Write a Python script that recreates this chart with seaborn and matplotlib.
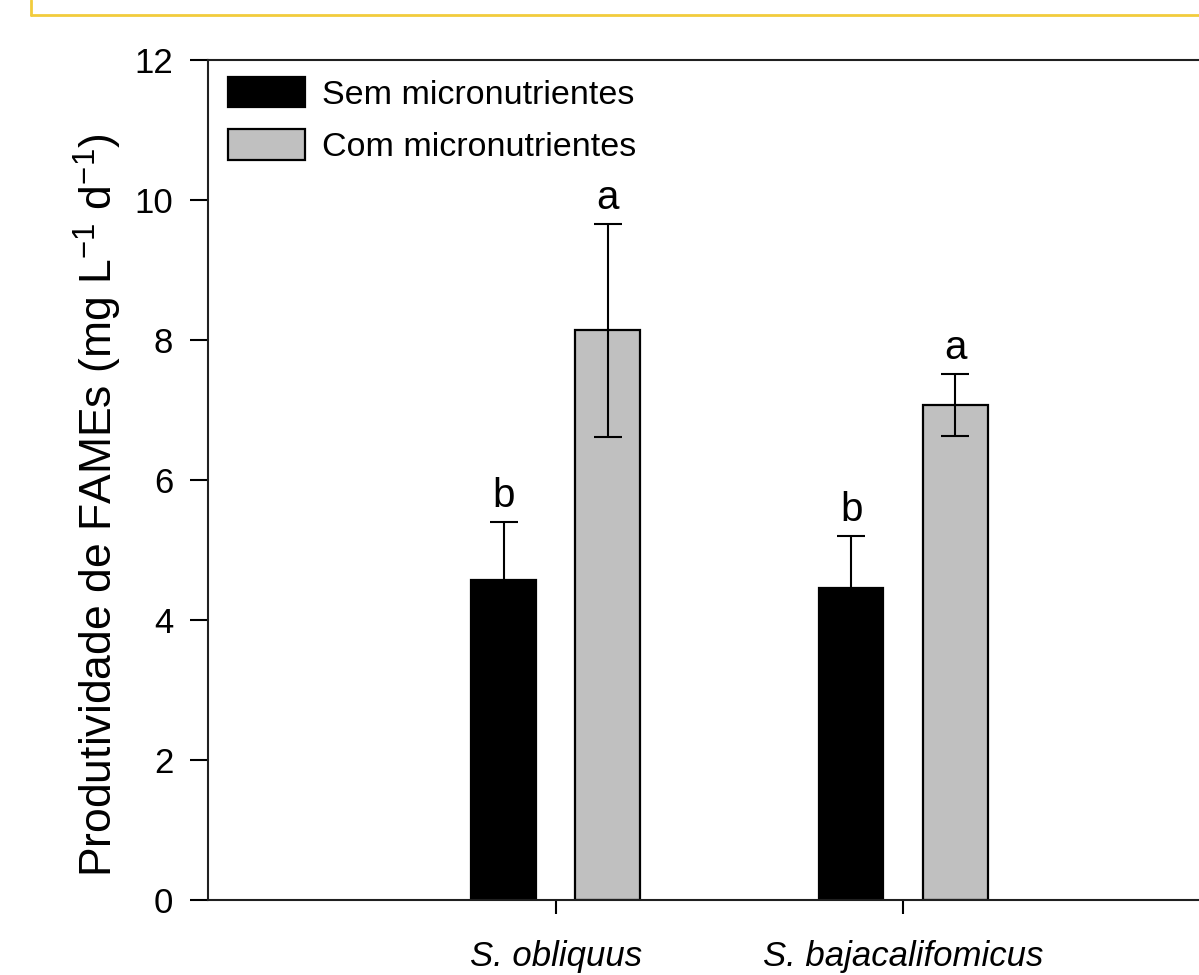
import pandas as pd
import numpy as np
import matplotlib.pyplot as plt
import seaborn as sns
from matplotlib.lines import Line2D

sns.set_style("ticks")
plt.rcParams['font.family'] = ['Liberation Sans', 'DejaVu Sans']
plt.rcParams['mathtext.fontset'] = 'custom'
plt.rcParams['mathtext.rm'] = 'Liberation Sans'
for k in ['text.color', 'axes.labelcolor', 'xtick.color', 'ytick.color']:
    plt.rcParams[k] = 'black'

species = ['S. obliquus', 'S. bajacalifomicus']
treatments = ['Sem micronutrientes', 'Com micronutrientes']
sem_mean = [4.57, 4.46]
sem_err = [0.83, 0.74]
com_mean = [8.14, 7.07]
com_err = [1.52, 0.44]
sem_letters = ['b', 'b']
com_letters = ['a', 'a']

df = pd.DataFrame({
    'species': species * 2,
    'treatment': [treatments[0]] * 2 + [treatments[1]] * 2,
    'value': sem_mean + com_mean,
    'err': sem_err + com_err,
    'letter': sem_letters + com_letters,
})

fig = plt.figure(figsize=(11.99, 9.75), dpi=100)
ax = fig.add_axes([208 / 1199, 1 - 900 / 975, 1 - 208 / 1199, 840 / 975])

sns.barplot(data=df, x='species', y='value', hue='treatment', hue_order=treatments,
            palette=['black', '#c0c0c0'], edgecolor='black', linewidth=1.6,
            width=0.6, gap=0.38, errorbar=None, ax=ax)

# error bars and letters placed on the drawn bars
for cont, tr in zip(ax.containers, treatments):
    sub = df[df['treatment'] == tr]
    for bar, (_, row) in zip(cont, sub.iterrows()):
        xc = bar.get_x() + bar.get_width() / 2
        ax.errorbar(xc, row['value'], yerr=row['err'], color='black', lw=1.5,
                    capsize=10, capthick=1.5, zorder=3)
        ax.annotate(row['letter'], (xc, row['value'] + row['err']), xytext=(0, 11),
                    textcoords='offset points', ha='center', va='baseline', fontsize=29)

ax.set_ylim(0, 12)
ax.set_yticks([0, 2, 4, 6, 8, 10, 12])
ax.set_xlim(-1, (1199 - 555) / 348)
ax.set_xlabel('')
ax.set_ylabel('Produtividade de FAMEs (mg L$^{-1}$ d$^{-1}$)', fontsize=32)
ax.yaxis.set_label_coords(-0.085, 0.47)
ax.tick_params(axis='y', labelsize=25, length=13, width=1.5, pad=12, direction='out')
ax.tick_params(axis='x', labelsize=25, length=10, width=1.5, pad=19, direction='out')
for lab in ax.get_xticklabels():
    lab.set_fontstyle('italic')

for s in ['left', 'top', 'bottom']:
    ax.spines[s].set_linewidth(1.5)
    ax.spines[s].set_color('#202020')
ax.spines['right'].set_visible(False)

ax.legend(loc='upper left', bbox_to_anchor=(0.02, 0.98), frameon=False, fontsize=24.5,
          handlelength=2.26, handleheight=1.0, handletextpad=0.5, labelspacing=0.55,
          borderpad=0, borderaxespad=0)

# yellow border of the box above
fig.add_artist(Line2D([31 / 1199, 1], [1 - 15 / 975] * 2, color='#f2cc3c', lw=2))
fig.add_artist(Line2D([31 / 1199] * 2, [1 - 15 / 975, 1], color='#f2cc3c', lw=2))

fig.savefig('out.png', dpi=100)
